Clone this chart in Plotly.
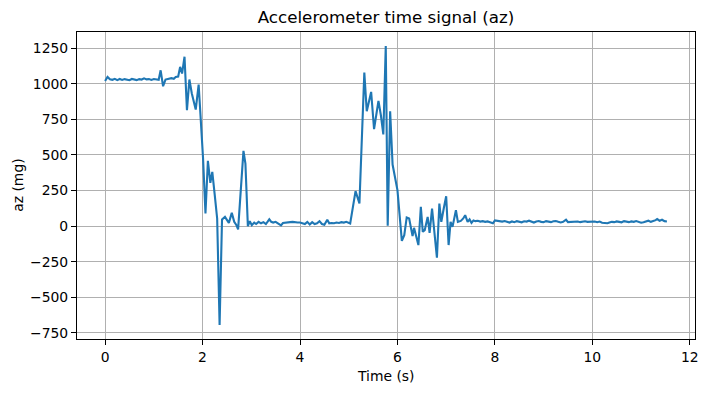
import plotly.graph_objects as go

# Time stamps (s) and az readings (mg)
time_s = [
    0.00, 0.05, 0.10, 0.15, 0.20, 0.25, 0.30, 0.35, 0.40, 0.45, 0.50, 0.55,
    0.60, 0.65, 0.70, 0.75, 0.80, 0.85, 0.90, 0.95, 1.00, 1.05, 1.10, 1.14,
    1.19, 1.24, 1.30, 1.36, 1.41, 1.45, 1.50, 1.54, 1.58, 1.63, 1.68, 1.73,
    1.78, 1.86, 1.92, 1.97, 2.01, 2.06, 2.11, 2.16, 2.20, 2.25, 2.30, 2.35,
    2.40, 2.46, 2.50, 2.54, 2.60, 2.65, 2.69, 2.73, 2.84, 2.88, 2.93, 2.97,
    3.01, 3.06, 3.10, 3.15, 3.20, 3.25, 3.30, 3.37, 3.41, 3.45, 3.50, 3.55,
    3.61, 3.65, 3.70, 3.75, 3.80, 3.85, 3.90, 3.95, 4.00, 4.05, 4.10, 4.15,
    4.20, 4.25, 4.30, 4.35, 4.40, 4.45, 4.50, 4.56, 4.60, 4.65, 4.70, 4.75,
    4.80, 4.85, 4.90, 4.95, 5.03, 5.14, 5.22, 5.32, 5.37, 5.46, 5.52, 5.61,
    5.66, 5.71, 5.76, 5.80, 5.85, 5.90, 5.95, 6.00, 6.09, 6.14, 6.19, 6.24,
    6.31, 6.34, 6.43, 6.48, 6.52, 6.56, 6.62, 6.66, 6.71, 6.77, 6.81, 6.86,
    6.90, 6.95, 7.00, 7.05, 7.09, 7.13, 7.16, 7.20, 7.24, 7.30, 7.35, 7.39,
    7.44, 7.48, 7.52, 7.56, 7.60, 7.65, 7.70, 7.75, 7.80, 7.85, 7.90, 7.96,
    8.00, 8.05, 8.10, 8.15, 8.20, 8.25, 8.30, 8.35, 8.40, 8.45, 8.50, 8.55,
    8.60, 8.65, 8.70, 8.75, 8.80, 8.85, 8.90, 8.95, 9.00, 9.05, 9.10, 9.15,
    9.20, 9.25, 9.30, 9.35, 9.40, 9.46, 9.50, 9.55, 9.60, 9.65, 9.70, 9.75,
    9.80, 9.85, 9.90, 9.95, 10.00, 10.05, 10.10, 10.15, 10.20, 10.25, 10.31,
    10.35, 10.40, 10.45, 10.50, 10.55, 10.60, 10.65, 10.70, 10.75, 10.80,
    10.85, 10.90, 10.95, 11.00, 11.05, 11.10, 11.15, 11.20, 11.25, 11.30,
    11.33, 11.38, 11.43, 11.48, 11.53,
]

az_mg = [
    1020, 1048, 1032, 1028, 1035, 1026, 1034, 1027, 1033, 1030, 1025, 1034,
    1031, 1026, 1033, 1030, 1038, 1031, 1033, 1027, 1034, 1030, 1028, 1095,
    983, 1030, 1036, 1040, 1035, 1048, 1051, 1119, 1072, 1190, 815, 1030,
    932, 819, 995, 720, 480, 89, 459, 304, 381, 220, 54, -695,
    47, 65, 40, 23, 93, 30, 10, -23, 529, 440, 0, 35,
    7, 25, 15, 30, 20, 28, 15, 48, 30, 25, 30, 20,
    5, 22, 25, 30, 28, 30, 25, 25, 25, 22, 15, 30,
    12, 28, 15, 20, 35, 15, 10, 45, 20, 22, 20, 25,
    22, 28, 25, 30, 19, 246, 159, 1079, 807, 943, 681, 880,
    779, 644, 1266, 2, 807, 433, 340, 253, -103, -63, 61, 54,
    -70, -12, -133, 136, -40, -28, 65, -47, 124, -63, -222, 159,
    30, 124, 210, -133, 30, -5, 54, 112, 30, 37, 54, 77,
    30, 47, 23, 40, 35, 38, 32, 35, 30, 33, 28, 20,
    40, 38, 35, 32, 36, 30, 25, 33, 28, 35, 30, 27,
    34, 32, 38, 30, 25, 33, 36, 30, 28, 35, 32, 28,
    34, 36, 30, 26, 30, 45, 28, 30, 32, 30, 33, 28,
    30, 34, 30, 32, 30, 33, 28, 32, 24, 22, 20,
    25, 30, 28, 33, 30, 27, 35, 32, 28, 33,
    30, 36, 30, 24, 28, 33, 38, 30, 35, 42,
    50, 38, 45, 35, 33,
]

x_ticks = [0, 2, 4, 6, 8, 10, 12]
y_ticks = [-750, -500, -250, 0, 250, 500, 750, 1000, 1250]

FONT = "DejaVu Sans"
OFF = 8  # default page body margin in the browser
W, H = 711 - OFF, 393 - OFF
L, R, T, B = 77 - OFF, 13, 32 - OFF, 54

fig = go.Figure()
fig.add_trace(go.Scatter(
    x=time_s, y=az_mg, mode="lines",
    line=dict(color="#1f77b4", width=2.1),
    showlegend=False, hoverinfo="skip",
))

xmin, xmax = min(time_s), max(time_s)
ymin, ymax = min(az_mg), max(az_mg)
xm = (xmax - xmin) * 0.05
ym = (ymax - ymin) * 0.05

axis_common = dict(
    showgrid=True, gridcolor="#b0b0b0", gridwidth=1.1,
    zeroline=False, showline=True, mirror=True,
    linecolor="black", linewidth=1.1,
    ticks="outside", ticklen=5, tickwidth=1.1, tickcolor="black",
    tickfont=dict(family=FONT, size=13.9, color="black"),
)

fig.update_layout(
    width=W, height=H,
    margin=dict(l=L, r=R, t=T, b=B, pad=0),
    paper_bgcolor="white", plot_bgcolor="white",
    font=dict(family=FONT, color="black"),
    xaxis=dict(range=[xmin - xm, xmax + xm], tickvals=x_ticks,
               ticktext=[str(v) for v in x_ticks], **axis_common),
    yaxis=dict(range=[ymin - ym, ymax + ym], tickvals=y_ticks,
               ticktext=[("\u2212" + str(-v)) if v < 0 else str(v) for v in y_ticks],
               **axis_common),
    title=dict(text="Accelerometer time signal (az)", x=0.5, xref="paper",
               y=1 - (17 - OFF) / H, yref="container", yanchor="middle",
               font=dict(family=FONT, size=16.7, color="black")),
)

ph = H - T - B
pw = W - L - R
fig.add_annotation(text="Time (s)", xref="paper", yref="paper",
                   x=0.5, y=-(376 - (393 - B)) / ph, yanchor="middle",
                   showarrow=False, font=dict(family=FONT, size=13.9, color="black"))
fig.add_annotation(text="az (mg)", xref="paper", yref="paper",
                   x=(17 - 77) / pw, y=0.5, xanchor="center", yanchor="middle",
                   textangle=-90, showarrow=False,
                   font=dict(family=FONT, size=13.9, color="black"))

fig.write_html("out.html")
